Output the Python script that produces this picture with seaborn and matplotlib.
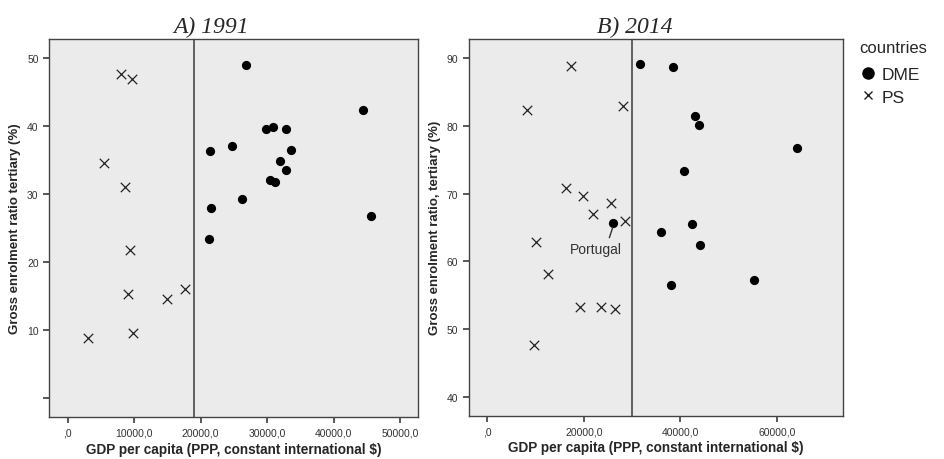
import numpy as np
import pandas as pd
import matplotlib
matplotlib.use("Agg")
import matplotlib.pyplot as plt
from matplotlib.lines import Line2D
import seaborn as sns

# -----------------------------
# Data
# -----------------------------
# Panel A, 1991
gdp_1991_dme = [26800, 44450, 29800, 30900, 32800, 21450, 24700, 33600,
                31900, 32800, 30400, 31200, 26250, 21550, 45600, 21250]
ger_1991_dme = [49.0, 42.4, 39.5, 39.9, 39.5, 36.3, 37.1, 36.5,
                34.8, 33.6, 32.0, 31.8, 29.2, 28.0, 26.8, 23.4]
gdp_1991_ps = [8000, 9650, 5400, 8600, 9450, 9050, 15000, 17600, 3050, 9800]
ger_1991_ps = [47.7, 46.9, 34.5, 31.0, 21.8, 15.3, 14.5, 16.1, 8.8, 9.6]

# Panel B, 2014
gdp_2014_dme = [31700, 38550, 43100, 43900, 64200, 40750, 26100, 42500,
                36100, 44000, 55350, 38150]
ger_2014_dme = [89.1, 88.7, 81.5, 80.1, 76.8, 73.4, 65.6, 65.5,
                64.4, 62.4, 57.2, 56.5]
gdp_2014_ps = [17350, 8250, 28100, 16300, 19900, 25700, 21950, 28600,
               10050, 12650, 19150, 23650, 26550, 9700]
ger_2014_ps = [88.9, 82.4, 83.0, 70.8, 69.6, 68.6, 67.0, 66.0,
               62.8, 58.1, 53.2, 53.2, 52.9, 47.6]

portugal_2014 = (26100, 65.6)

threshold_1991 = 19000
threshold_2014 = 30000

xticks_1991 = [0, 10000, 20000, 30000, 40000, 50000]
xticks_2014 = [0, 20000, 40000, 60000]
yticks_1991 = [0, 10, 20, 30, 40, 50]
yticks_2014 = [40, 50, 60, 70, 80, 90]


def make_frame(gdp_dme, ger_dme, gdp_ps, ger_ps):
    return pd.DataFrame({
        "gdp": gdp_dme + gdp_ps,
        "ger": ger_dme + ger_ps,
        "countries": ["DME"] * len(gdp_dme) + ["PS"] * len(gdp_ps),
    })


df_1991 = make_frame(gdp_1991_dme, ger_1991_dme, gdp_1991_ps, ger_1991_ps)
df_2014 = make_frame(gdp_2014_dme, ger_2014_dme, gdp_2014_ps, ger_2014_ps)


def fmt_x(v):
    return ",0" if v == 0 else f"{v:.0f},0"


# -----------------------------
# Figure
# -----------------------------
sns.set_theme(style="ticks", rc={
    "axes.facecolor": "#ebebeb",
    "axes.edgecolor": "#444444",
    "axes.linewidth": 1.0,
    "xtick.color": "#444444",
    "ytick.color": "#444444",
    "xtick.labelcolor": "#333333",
    "ytick.labelcolor": "#333333",
    "xtick.major.size": 4,
    "ytick.major.size": 4,
})
plt.rcParams["font.family"] = ["Liberation Sans", "DejaVu Sans"]

fig = plt.figure(figsize=(9.45, 4.6), dpi=100)
ax_a = fig.add_axes([0.0519, 0.0913, 0.3904, 0.8217])
ax_b = fig.add_axes([0.4960, 0.0941, 0.3960, 0.8189])

panels = [
    (ax_a, df_1991, "A) 1991", 0.439, threshold_1991, xticks_1991, yticks_1991,
     (-2800, 52700), (-2.8, 52.8), "Gross enrolment ratio tertiary (%)"),
    (ax_b, df_2014, "B) 2014", 0.445, threshold_2014, xticks_2014, yticks_2014,
     (-3850, 73700), (37.2, 92.85), "Gross enrolment ratio, tertiary (%)"),
]

for ax, df, title, tx, thr, xt, yt, xl, yl, ylab in panels:
    sns.scatterplot(data=df[df.countries == "DME"], x="gdp", y="ger",
                    marker="o", color="black", s=44, edgecolor="black",
                    linewidth=0, ax=ax, zorder=3)
    sns.scatterplot(data=df[df.countries == "PS"], x="gdp", y="ger",
                    marker="x", color="#222222", s=46, linewidth=0.9,
                    ax=ax, zorder=3)
    ax.axvline(thr, color="#555555", linewidth=1.3, zorder=2)
    ax.set_xlim(*xl)
    ax.set_ylim(*yl)
    ax.set_xticks(xt)
    ax.set_xticklabels([fmt_x(v) for v in xt], fontsize=7.5)
    ax.set_yticks(yt)
    ax.set_yticklabels(["" if v == 0 else str(v) for v in yt], fontsize=7.5)
    ax.set_xlabel("GDP per capita (PPP, constant international $)",
                  fontsize=9.8, fontweight="bold", labelpad=3)
    ax.set_ylabel(ylab, fontsize=9.5, fontweight="bold", labelpad=4)
    ax.set_title(title, fontsize=17, fontstyle="italic", x=tx,
                 family=["Liberation Serif", "DejaVu Serif"], pad=5)

# Portugal label with leader line
ax_b.text(22500, 61.9, "Portugal", ha="center", va="center", fontsize=10,
          color="#333333")
ax_b.annotate("", xy=(portugal_2014[0] - 110, portugal_2014[1] - 0.6),
              xytext=(25290, 63.5),
              arrowprops=dict(arrowstyle="-", color="#333333", lw=1.0,
                              shrinkA=0, shrinkB=0))

# Legend (proxy handles so the plotted marks keep their size)
legend_handles = [
    Line2D([], [], linestyle="none", marker="o", color="black",
           markersize=8, label="DME"),
    Line2D([], [], linestyle="none", marker="x", color="#222222",
           markersize=5.5, markeredgewidth=1.0, label="PS"),
]
leg = ax_b.legend(handles=legend_handles, title="countries", loc="upper left",
                  bbox_to_anchor=(1.025, 1.015), frameon=False, fontsize=12.5,
                  title_fontsize=12, handletextpad=0.3, handlelength=1.0,
                  borderaxespad=0, labelspacing=0.45)
leg._legend_box.align = "left"
leg._legend_box.sep = 8

fig.savefig("out.png", dpi=100, facecolor="white")
